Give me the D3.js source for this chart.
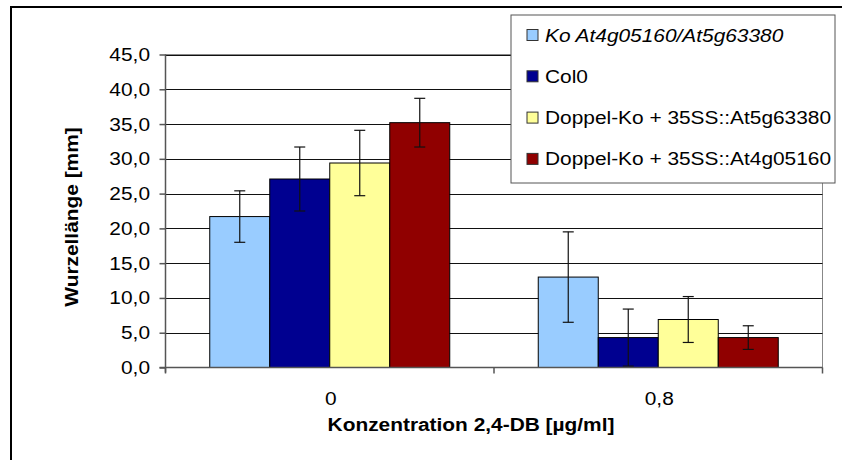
<!DOCTYPE html>
<html><head><meta charset="utf-8">
<script src="https://cdn.jsdelivr.net/npm/d3@7"></script>
<style>body{margin:0;background:#fff}svg{display:block}text{font-family:Arial,"Liberation Sans",sans-serif;fill:#000}</style>
</head><body><svg id="c" width="842" height="460"></svg>
<script>
const categories = ["0", "0,8"];
const seriesNames = ["Ko At4g05160/At5g63380", "Col0", "Doppel-Ko + 35SS::At5g63380", "Doppel-Ko + 35SS::At4g05160"];
const koValues = [21.7, 13.0];
const col0Values = [27.1, 4.3];
const dk63380Values = [29.4, 6.9];
const dk05160Values = [35.2, 4.3];
const koErr = [3.7, 6.5];
const col0Err = [4.6, 4.1];
const dk63380Err = [4.7, 3.3];
const dk05160Err = [3.5, 1.7];
const yTicks = [0, 5, 10, 15, 20, 25, 30, 35, 40, 45];
const colors = ["#99CCFF", "#000090", "#FFFF99", "#900000"];

const values = [koValues, col0Values, dk63380Values, dk05160Values];
const errs = [koErr, col0Err, dk63380Err, dk05160Err];

const svg = d3.select("#c");
const SX = 1.16;
function stext(g, x, y, str, anchor, opts) {
  opts = opts || {};
  return g.append("text")
    .attr("transform", `translate(${x},${y}) scale(${SX},1)` + (opts.rot ? " rotate(-90)" : ""))
    .attr("text-anchor", anchor || "start")
    .attr("font-size", opts.size || 18)
    .attr("font-weight", opts.bold ? "bold" : null)
    .attr("font-style", opts.italic ? "italic" : null)
    .text(str);
}

// outer chart border
svg.append("rect").attr("x", 11).attr("y", 7).attr("width", 900).attr("height", 500)
  .attr("fill", "#fff").attr("stroke", "#000").attr("stroke-width", 2);

const L = 165.5, R = 822.5, T = 54.5, B = 367.5;
const y = d3.scaleLinear().domain([0, 45]).range([B, T]);
const x0 = d3.scaleBand().domain(categories).range([L, R]).padding(0);
const x1 = d3.scaleBand().domain(d3.range(seriesNames.length)).range([0, x0.bandwidth()])
  .paddingInner(0).paddingOuter(0.7375);

// plot area border (grey)
svg.append("rect").attr("x", L).attr("y", T).attr("width", R - L).attr("height", B - T)
  .attr("fill", "none").attr("stroke", "#888").attr("stroke-width", 1);

// gridlines
svg.append("g").selectAll("line").data(yTicks.filter(d => d > 0)).join("line")
  .attr("x1", L).attr("x2", R).attr("y1", d => Math.round(y(d)) + 0.5).attr("y2", d => Math.round(y(d)) + 0.5)
  .attr("stroke", "#111").attr("stroke-width", 1);

// bars
const bars = [];
categories.forEach((c, ci) => values.forEach((v, si) => bars.push({c, ci, si, v: v[ci], e: errs[si][ci]})));
svg.append("g").selectAll("rect").data(bars).join("rect")
  .attr("x", d => x0(d.c) + x1(d.si))
  .attr("y", d => y(d.v))
  .attr("width", x1.bandwidth())
  .attr("height", d => y(0) - y(d.v))
  .attr("fill", d => colors[d.si])
  .attr("stroke", "#000").attr("stroke-width", 1);

// error bars
const eg = svg.append("g").attr("stroke", "#111").attr("stroke-width", 1.2);
bars.forEach(d => {
  const cx = x0(d.c) + x1(d.si) + x1.bandwidth() / 2;
  eg.append("line").attr("x1", cx).attr("x2", cx).attr("y1", y(d.v + d.e)).attr("y2", y(d.v - d.e));
  [d.v + d.e, d.v - d.e].forEach(t => eg.append("line").attr("x1", cx - 5.5).attr("x2", cx + 5.5).attr("y1", y(t)).attr("y2", y(t)));
});

// axes
const yAxis = svg.append("g").attr("transform", `translate(${L},0)`)
  .call(d3.axisLeft(y).tickValues(yTicks).tickSize(6).tickFormat(""));
yAxis.select(".domain").attr("stroke", "#555").attr("stroke-width", 1.5).attr("d", `M0,${T}V${B + 5}`);
yAxis.selectAll(".tick line").attr("stroke", "#555").attr("stroke-width", 1.5);
const fmt = d => d3.format(".1f")(d).replace(".", ",");
yTicks.forEach(t => stext(svg, 150, y(t) + 6.5, fmt(t), "end"));

const xAxis = svg.append("g").attr("transform", `translate(0,${B})`);
xAxis.append("line").attr("x1", L - 6).attr("x2", R).attr("y1", 0).attr("y2", 0).attr("stroke", "#555").attr("stroke-width", 1.5);
xAxis.selectAll("line.tk").data([L, ...categories.map(c => x0(c) + x0.bandwidth())]).join("line").attr("class", "tk")
  .attr("x1", d => d).attr("x2", d => d).attr("y1", 0).attr("y2", 6).attr("stroke", "#555").attr("stroke-width", 1.5);
categories.forEach(c => stext(svg, x0(c) + x0.bandwidth() / 2 + 1, 405, c, "middle"));

// axis titles
stext(svg, 471, 431, "Konzentration 2,4-DB [µg/ml]", "middle", {bold: true});
svg.append("text").attr("transform", `translate(78,217) rotate(-90) scale(${SX},1)`)
  .attr("text-anchor", "middle").attr("font-size", 18).attr("font-weight", "bold").text("Wurzellänge [mm]");

// legend
const lg = svg.append("g");
lg.append("rect").attr("x", 511).attr("y", 15).attr("width", 324).attr("height", 168)
  .attr("fill", "#fff").attr("stroke", "#555").attr("stroke-width", 1);
seriesNames.forEach((n, i) => {
  const cy = 35 + i * 41.3;
  lg.append("rect").attr("x", 527).attr("y", cy - 5.5).attr("width", 11).attr("height", 11)
    .attr("fill", colors[i]).attr("stroke", "#333").attr("stroke-width", 1);
  stext(lg, 545, cy + 6.5, n, "start", {italic: i === 0});
});
</script></body></html>
